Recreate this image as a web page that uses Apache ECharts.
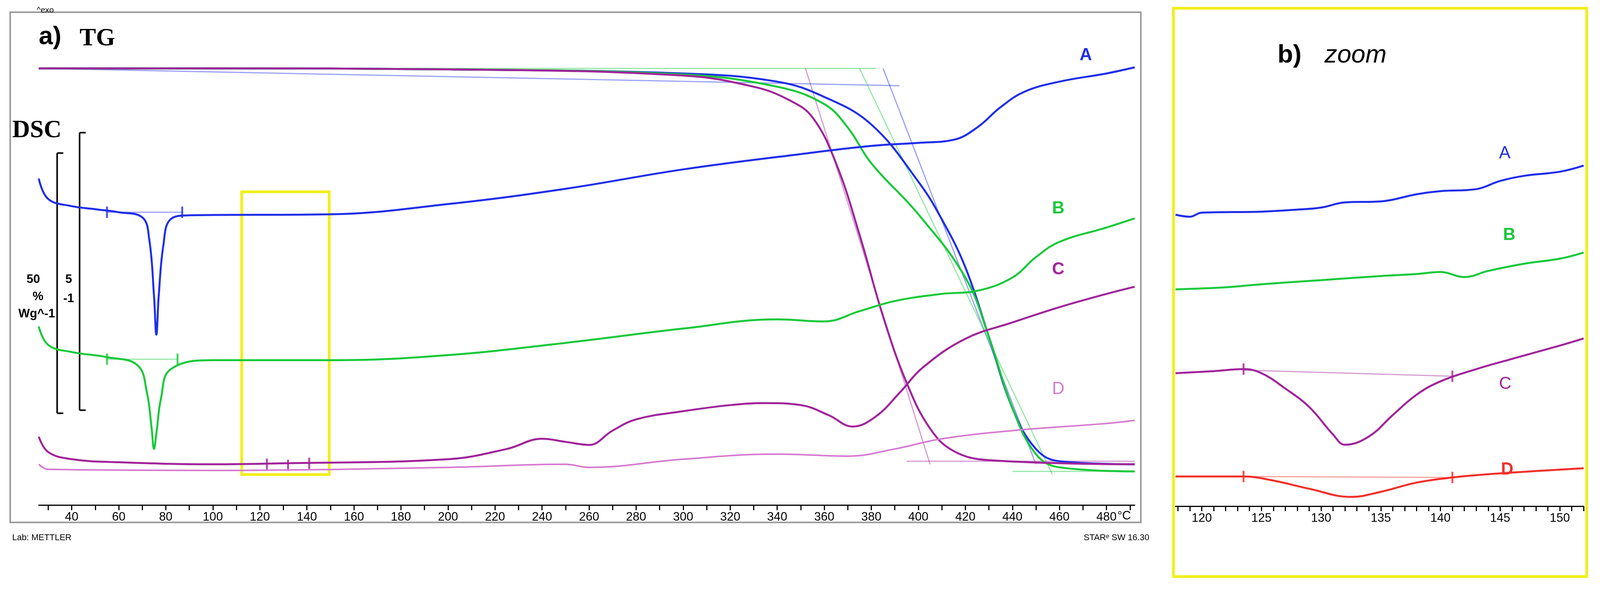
<!DOCTYPE html>
<html><head><meta charset="utf-8">
<script src="https://cdn.jsdelivr.net/npm/echarts@6/dist/echarts.min.js"></script>
<style>html,body{margin:0;padding:0;background:#fff;overflow:hidden;width:100%;height:100%}#c{width:100vw;height:100vh}</style>
</head><body><div id="c"></div>
<script>
// values: [temperature °C, signal (plot units, downward)]
const tgA=[[26,67],[100,67],[200,68],[300,72],[340,80],[360,95],[380,122],[400,178],[410,215],[420,262],[430,330],[440,400],[450,440],[460,452],[492,455]];
const tgB=[[26,67],[100,67],[200,68],[300,73],[340,85],[360,102],[370,125],[380,160],[400,210],[420,272],[430,330],[440,400],[450,445],[460,458],[492,462]];
const tgC=[[26,67],[100,67],[200,68],[300,74],[330,85],[345,98],[355,115],[365,160],[375,230],[385,310],[395,375],[405,420],[415,442],[430,451],[492,455]];
const dscA=[[26,175],[30,195],[40,202],[50,205],[60,208],[70,213],[73,235],[75,290],[76,328],[77,290],[79,240],[82,215],[90,211],[150,210],[200,200],[250,185],[300,166],[350,151],[380,143],[400,140],[415,137],[425,125],[435,105],[445,90],[460,80],[480,72],[492,66]];
const dscB=[[26,320],[30,338],[40,345],[55,350],[68,358],[72,385],[74,420],[75,440],[76,425],[78,390],[82,362],[100,353],[150,353],[200,348],[250,336],[300,322],[340,313],[360,315],[375,305],[390,295],[410,288],[425,285],[440,272],[450,252],[460,237],[480,223],[492,214]];
const dscC=[[26,428],[30,443],[40,450],[60,453],[100,455],[130,454],[200,450],[225,440],[240,430],[250,433],[260,436],[270,422],[280,411],[300,403],[320,397],[335,395],[350,397],[362,407],[372,418],[382,408],[392,385],[402,360],[420,332],[440,316],[460,301],[480,288],[492,281]];
const dscD=[[26,455],[30,460],[100,461],[200,458],[250,455],[260,458],[300,450],[340,445],[370,447],[390,440],[410,430],[440,422],[480,415],[492,412]];
const zA=[[117.8,210],[119,212],[120,208],[125,207],[128,205],[130,203],[132,198],[135,197],[138,190],[140,187],[143,185],[145,177],[147,172],[150,168],[152,162]];
const zB=[[117.8,283],[122,281],[125,278],[130,274],[135,270],[138,268],[140,266],[142,271],[144,265],[147,258],[150,253],[152,247]];
const zC=[[117.8,365],[121,363],[123.5,361],[125,365],[127,380],[129,398],[131,425],[132,435],[134,427],[136,406],[138,386],[140,373],[143,361],[146,351],[150,338],[152,331]];
const zD=[[117.8,466],[123.5,466],[126,470],[129,478],[132.5,486],[135,481],[138,472],[141,467],[145,463],[152,458]];
const xLabelsL=[40,60,80,100,120,140,160,180,200,220,240,260,280,300,320,340,360,380,400,420,440,460,480];
const xLabelsR=[120,125,130,135,140,145,150];

const W=window.innerWidth,H=window.innerHeight;
const sx=W/1568, sy=H/588;
const PX=v=>v*sx, PY=v=>v*sy, F=v=>Math.round(v*sx);
const ticksL=[];for(let t=30;t<=490;t+=10)ticksL.push(t);
const ticksR=[];for(let t=118;t<=152;t+=1)ticksR.push(t);
const BLUE='#1f2ee8',GREEN='#18c93a',PURP='#a0249a',PINK='#d67ad0',RED='#f0302a';
const LW=F(1.8);
function line(data,color,w,xi){return {type:'line',data,xAxisIndex:xi,yAxisIndex:xi,showSymbol:false,smooth:0.4,lineStyle:{color,width:w},silent:true};}
function seg(data,color,xi){return {type:'line',data,xAxisIndex:xi,yAxisIndex:xi,showSymbol:false,lineStyle:{color,width:F(1.1),opacity:0.45},silent:true};}
function ticks(data,color,xi){return {type:'scatter',data,xAxisIndex:xi,yAxisIndex:xi,symbol:'rect',symbolSize:[F(2),F(11)],itemStyle:{color},silent:true};}
const series=[
 seg([[26,67],[392,84]],BLUE,0),seg([[385,67],[450,455]],BLUE,0),
 seg([[26,67],[382,67]],GREEN,0),seg([[375,67],[457,465]],GREEN,0),seg([[440,462],[492,462]],GREEN,0),
 seg([[352,67],[405,455]],PURP,0),seg([[395,452],[492,452]],PURP,0),
 seg([[55,208],[87,208]],BLUE,0),seg([[55,352],[85,352]],GREEN,0),
 line(tgA,BLUE,LW,0),line(tgB,GREEN,LW,0),line(tgC,PURP,LW,0),
 line(dscA,BLUE,LW,0),line(dscB,GREEN,LW,0),line(dscC,PURP,LW,0),line(dscD,PINK,F(1.5),0),
 ticks([[55,208],[87,208]],BLUE,0),ticks([[55,352],[85,352]],GREEN,0),ticks([[123,455],[132,456],[141,454]],PURP,0),
 {type:'line',data:[],xAxisIndex:0,yAxisIndex:0,markArea:{silent:true,itemStyle:{color:'rgba(0,0,0,0)',borderColor:'#f2ee1a',borderWidth:F(2.8)},data:[[{coord:[112.3,188]},{coord:[149.5,465]}]]}},
 seg([[123.5,362],[141,368]],PURP,1),seg([[123.5,466],[141,467]],RED,1),
 line(zA,BLUE,LW,1),line(zB,GREEN,LW,1),line(zC,PURP,LW,1),line(zD,RED,LW,1),
 ticks([[123.5,361],[141,368]],PURP,1),ticks([[123.5,466],[141,467]],RED,1)
];
function xa(gi,min,max,labels,tk){return {type:'value',gridIndex:gi,min,max,
 axisLine:{lineStyle:{color:'#000',width:F(1.2)}},
 axisTick:{show:true,customValues:tk,length:F(5),lineStyle:{color:'#000',width:F(1)}},
 axisLabel:{customValues:labels,color:'#000',fontSize:F(12),fontFamily:'Arial, Liberation Sans',margin:F(6)},
 splitLine:{show:false}};}
function ya(gi){return {type:'value',gridIndex:gi,inverse:true,min:20,max:495,show:false,splitLine:{show:false}};}
const txt=(x,y,t,st)=>({type:'text',left:PX(x),top:PY(y),style:Object.assign({text:t,fill:'#000',font:F(12)+'px Arial'},st)});
const ln=(x1,y1,x2,y2)=>({type:'line',shape:{x1:PX(x1),y1:PY(y1),x2:PX(x2),y2:PY(y2)},style:{stroke:'#000',lineWidth:F(1.4)}});
const opt={animation:false,
 grid:[{left:PX(38),width:PX(1112-38),top:PY(20),height:PY(495-20)},{left:PX(1152),width:PX(1552-1152),top:PY(20),height:PY(496-20)}],
 xAxis:[xa(0,26,492,xLabelsL,ticksL),xa(1,117.8,152,xLabelsR,ticksR)],
 yAxis:[ya(0),ya(1)],
 series,
 graphic:[
  {type:'rect',shape:{x:PX(10),y:PY(12),width:PX(1108),height:PY(500)},style:{fill:'none',stroke:'#999',lineWidth:F(1.4)}},
  {type:'rect',shape:{x:PX(1150),y:PY(8),width:PX(405),height:PY(565-8)},style:{fill:'none',stroke:'#f2ee1a',lineWidth:F(2.8)}},
  txt(36,6,'^exo',{font:F(8)+'px Arial'}),
  txt(38,24,'a)',{font:'bold '+F(25)+'px Arial'}),
  txt(78,26,'TG',{font:'bold '+F(24)+'px "Liberation Serif", serif'}),
  txt(12,116,'DSC',{font:'bold '+F(24)+'px "Liberation Serif", serif'}),
  ln(56,150,56,405),ln(56,150,62,150),ln(56,405,62,405),
  ln(78,130,78,402),ln(78,130,84,130),ln(78,402,84,402),
  txt(26,268,'50',{font:'bold '+F(12)+'px Arial'}),txt(32,285,'%',{font:'bold '+F(12)+'px Arial'}),txt(18,302,'Wg^-1',{font:'bold '+F(12)+'px Arial'}),
  txt(64,268,'5',{font:'bold '+F(12)+'px Arial'}),txt(62,287,'-1',{font:'bold '+F(12)+'px Arial'}),
  txt(1095,500,'°C',{font:F(12)+'px Arial'}),
  txt(12,523,'Lab: METTLER',{font:F(8.5)+'px Arial'}),
  txt(1062,523,'STARᵉ SW 16.30',{font:F(8.5)+'px Arial'}),
  txt(1058,46,'A',{fill:BLUE,font:'bold '+F(17)+'px Arial'}),
  txt(1031,196,'B',{fill:GREEN,font:'bold '+F(17)+'px Arial'}),
  txt(1031,256,'C',{fill:PURP,font:'bold '+F(17)+'px Arial'}),
  txt(1031,373,'D',{fill:PINK,font:F(17)+'px Arial'}),
  txt(1252,42,'b)',{font:'bold '+F(25)+'px Arial'}),
  txt(1298,42,'zoom',{font:'italic '+F(25)+'px Arial'}),
  txt(1469,142,'A',{fill:BLUE,font:F(17)+'px Arial'}),
  txt(1473,222,'B',{fill:GREEN,font:'bold '+F(17)+'px Arial'}),
  txt(1469,368,'C',{fill:PURP,font:F(17)+'px Arial'}),
  txt(1471,452,'D',{fill:RED,font:'bold '+F(17)+'px Arial'})
 ]};
echarts.init(document.getElementById('c')).setOption(opt);
</script></body></html>
